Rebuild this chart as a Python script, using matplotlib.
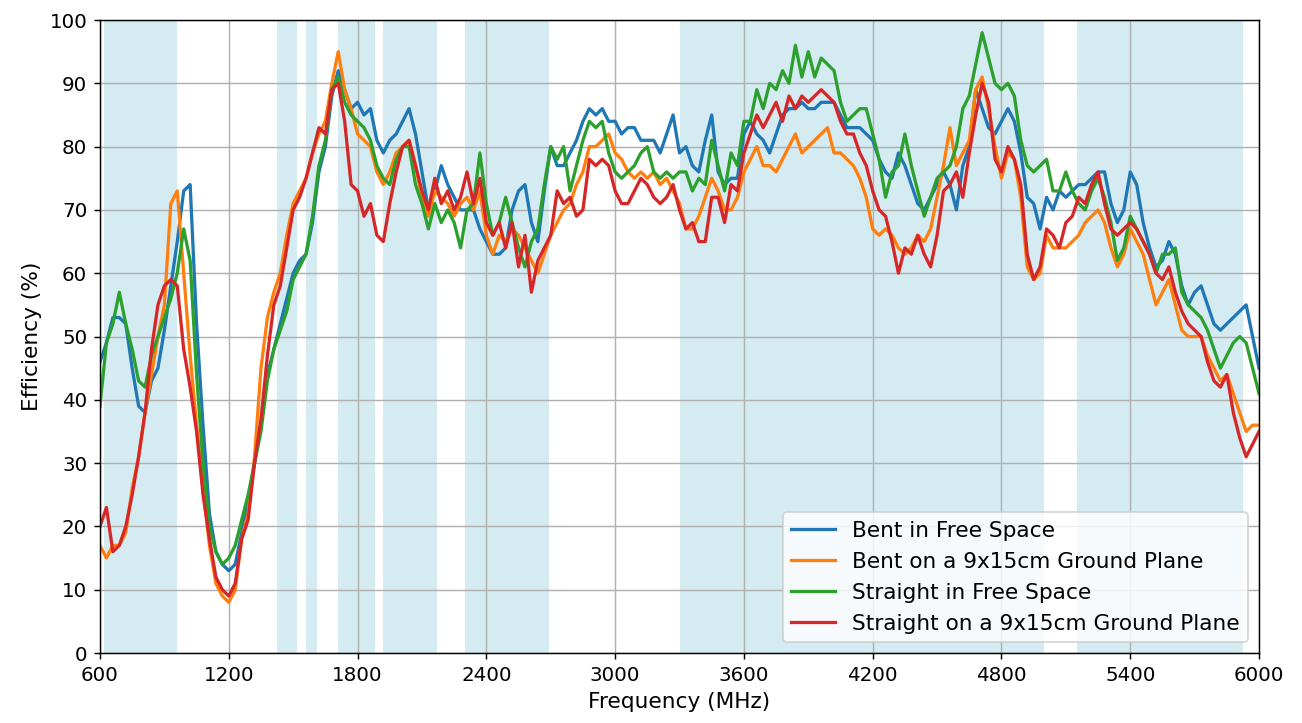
import numpy as np
import matplotlib
matplotlib.use("Agg")
import matplotlib.pyplot as plt

# frequency grid (MHz), one reading every 30 MHz
freq = np.arange(600, 6001, 30)

bent_free = [
    46, 49, 53, 53, 52, 45, 39, 38, 43, 45,
    51, 58, 65, 73, 74, 52, 36, 22, 16, 14,
    13, 14, 19, 24, 30, 36, 44, 48, 52, 56,
    60, 62, 63, 68, 76, 80, 88, 92, 89, 86,
    87, 85, 86, 81, 79, 81, 82, 84, 86, 82,
    76, 70, 73, 77, 74, 72, 70, 70, 70, 67,
    65, 63, 63, 64, 70, 73, 74, 68, 65, 73,
    80, 77, 77, 79, 81, 84, 86, 85, 86, 84,
    84, 82, 83, 83, 81, 81, 81, 79, 82, 85,
    79, 80, 77, 76, 81, 85, 76, 74, 75, 75,
    82, 84, 82, 81, 79, 82, 85, 86, 86, 87,
    86, 86, 87, 87, 87, 85, 83, 83, 83, 82,
    81, 78, 76, 75, 79, 77, 74, 71, 70, 72,
    74, 76, 74, 70, 77, 80, 89, 86, 83, 82,
    84, 86, 84, 79, 72, 71, 67, 72, 70, 73,
    72, 73, 74, 74, 75, 76, 76, 71, 68, 70,
    76, 74, 68, 64, 61, 62, 65, 63, 58, 55,
    57, 58, 55, 52, 51, 52, 53, 54, 55, 50,
    45,
]

bent_gp = [
    17, 15, 17, 17, 19, 26, 31, 38, 44, 50,
    55, 71, 73, 60, 47, 36, 26, 17, 11, 9,
    8, 10, 18, 22, 31, 45, 53, 57, 60, 66,
    71, 73, 75, 79, 82, 84, 90, 95, 89, 86,
    82, 81, 80, 76, 74, 76, 79, 80, 81, 77,
    72, 69, 73, 72, 71, 69, 71, 72, 70, 73,
    66, 63, 66, 65, 67, 66, 64, 62, 60, 63,
    66, 68, 70, 71, 74, 76, 80, 80, 81, 82,
    79, 78, 76, 75, 76, 75, 76, 74, 75, 73,
    71, 67, 67, 69, 72, 75, 73, 70, 70, 72,
    76, 78, 80, 77, 77, 76, 78, 80, 82, 79,
    80, 81, 82, 83, 79, 79, 78, 77, 75, 72,
    67, 66, 67, 66, 64, 63, 64, 66, 65, 67,
    72, 77, 83, 77, 79, 81, 89, 91, 86, 80,
    75, 79, 78, 72, 61, 59, 60, 66, 64, 64,
    64, 65, 66, 68, 69, 70, 68, 64, 61, 63,
    67, 65, 63, 59, 55, 57, 59, 55, 51, 50,
    50, 50, 47, 45, 43, 44, 41, 38, 35, 36,
    36,
]

straight_free = [
    39, 49, 52, 57, 52, 48, 43, 42, 47, 50,
    53, 56, 60, 67, 62, 44, 30, 20, 16, 14,
    15, 17, 21, 25, 30, 35, 43, 48, 51, 54,
    59, 61, 63, 69, 77, 81, 89, 91, 87, 85,
    84, 83, 81, 77, 75, 74, 78, 80, 80, 74,
    71, 67, 71, 68, 70, 68, 64, 70, 71, 79,
    71, 66, 68, 72, 68, 64, 61, 65, 67, 74,
    80, 78, 80, 73, 77, 81, 84, 83, 84, 79,
    76, 75, 76, 77, 79, 80, 76, 75, 76, 75,
    76, 76, 73, 75, 74, 81, 77, 73, 79, 77,
    84, 84, 89, 86, 90, 89, 92, 90, 96, 91,
    95, 91, 94, 93, 92, 87, 84, 85, 86, 86,
    82, 78, 72, 76, 77, 82, 77, 73, 69, 72,
    75, 76, 77, 80, 86, 88, 93, 98, 94, 90,
    89, 90, 88, 81, 77, 76, 77, 78, 73, 73,
    76, 73, 71, 70, 73, 75, 72, 68, 62, 64,
    69, 67, 65, 63, 60, 63, 63, 64, 57, 55,
    54, 53, 51, 48, 45, 47, 49, 50, 49, 45,
    41,
]

straight_gp = [
    20, 23, 16, 17, 20, 25, 31, 38, 48, 55,
    58, 59, 58, 48, 42, 35, 25, 18, 12, 10,
    9, 11, 18, 21, 30, 37, 47, 55, 58, 64,
    70, 72, 75, 79, 83, 82, 89, 90, 84, 74,
    73, 69, 71, 66, 65, 71, 76, 80, 81, 77,
    73, 70, 75, 71, 73, 70, 72, 76, 71, 75,
    68, 66, 68, 64, 68, 61, 66, 57, 62, 64,
    66, 73, 71, 72, 69, 70, 78, 77, 78, 77,
    73, 71, 71, 73, 75, 74, 72, 71, 72, 74,
    70, 67, 68, 65, 65, 72, 72, 68, 74, 73,
    79, 82, 85, 83, 85, 87, 84, 88, 86, 88,
    87, 88, 89, 88, 87, 84, 82, 82, 79, 77,
    73, 70, 69, 65, 60, 64, 63, 66, 63, 61,
    66, 73, 74, 76, 72, 79, 85, 90, 87, 78,
    76, 80, 78, 74, 63, 59, 61, 67, 66, 64,
    68, 69, 72, 71, 74, 76, 71, 67, 66, 67,
    68, 67, 65, 63, 60, 59, 61, 57, 54, 52,
    51, 50, 46, 43, 42, 44, 38, 34, 31, 33,
    35,
]

labels = [
    "Bent in Free Space",
    "Bent on a 9x15cm Ground Plane",
    "Straight in Free Space",
    "Straight on a 9x15cm Ground Plane",
]

# cellular / GNSS bands (MHz)
bands = [(617, 960), (1427, 1518), (1559, 1610), (1710, 1880),
         (1920, 2170), (2300, 2690), (3300, 5000), (5150, 5925)]

fig = plt.figure(figsize=(1302 / 130, 723 / 130), dpi=130)
ax = fig.add_axes([0.0768, 0.0968, 0.8902, 0.8755])

for lo, hi in bands:
    ax.axvspan(lo, hi, color="lightblue", alpha=0.5, lw=0)

for series, label in zip([bent_free, bent_gp, straight_free, straight_gp], labels):
    ax.plot(freq, series, lw=1.8, label=label)

ax.set_xlim(600, 6000)
ax.set_ylim(0, 100)
ax.set_xticks(np.arange(600, 6001, 600))
ax.set_yticks(np.arange(0, 101, 10))
ax.tick_params(labelsize=11)
ax.grid(True)
ax.set_xlabel("Frequency (MHz)", fontsize=12)
ax.set_ylabel("Efficiency (%)", fontsize=12)
ax.legend(loc="lower right", fontsize=12)

fig.savefig("out.png", dpi=130)
